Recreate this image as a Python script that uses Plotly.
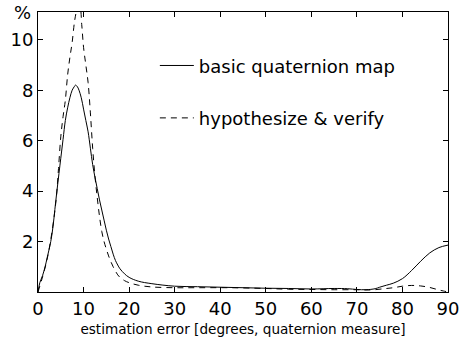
import plotly.graph_objects as go

# estimation error [degrees]
x_basic = [0, 0.4, 1, 1.6, 2, 2.8, 3.3, 3.7, 4.15, 4.6, 5, 5.5, 6, 6.5, 7, 7.5, 8, 8.2, 8.6, 9, 9.5, 10, 10.5, 11, 11.5, 12, 12.5, 13, 13.5, 14,
           14.5, 15, 15.5, 16, 16.5, 17, 17.5, 18, 19, 20,
           22, 25, 30, 35, 40, 45, 50, 55, 60, 65, 68, 70, 72, 74, 75, 76.5, 78, 80, 82, 84, 86, 88, 90]
y_basic = [0, 0.37, 0.65, 1.03, 1.35, 2.0, 2.6, 3.27, 4.0, 4.7, 5.3, 6.05, 6.8, 7.3, 7.7, 8.0, 8.15, 8.2, 8.15, 8.0, 7.7, 7.25, 6.8, 6.35, 5.7, 5.05, 4.55, 4.1, 3.65, 3.25,
           2.85, 2.45, 2.1, 1.8, 1.5, 1.25, 1.07, 0.92, 0.72, 0.58,
           0.43, 0.33, 0.23, 0.21, 0.19, 0.17, 0.15, 0.14, 0.12, 0.14, 0.13, 0.1, 0.09, 0.13, 0.19, 0.27, 0.35, 0.53, 0.85, 1.22, 1.55, 1.76, 1.86]

x_hyp = [0, 1, 2, 3, 4, 4.5, 5, 5.5, 6, 6.5, 7, 7.5, 8, 8.4, 8.8, 9.2, 9.6, 10, 10.5, 11, 11.5, 12, 12.5, 13, 13.5, 14, 14.5, 15, 15.5, 16, 16.5, 17, 17.5, 18, 19, 20,
         22, 25, 30, 35, 42, 50, 55, 60, 65, 70, 73, 76, 78, 80, 82, 84, 86, 88, 89, 90]
y_hyp = [0, 0.6, 1.3, 2.3, 3.7, 4.9, 6.15, 6.95, 7.6, 8.6, 9.3, 9.9, 10.7, 11.1, 11.35, 11.3, 10.6, 9.7, 9.0, 8.3, 7.1, 5.7, 4.6, 3.75, 3.0, 2.4, 2.0, 1.7, 1.43, 1.2, 1.0, 0.83, 0.68, 0.58, 0.45, 0.37,
         0.27, 0.2, 0.17, 0.17, 0.17, 0.14, 0.11, 0.1, 0.09, 0.09, 0.08, 0.13, 0.17, 0.23, 0.26, 0.24, 0.18, 0.08, 0.04, 0.0]

series_names = ["basic quaternion map", "hypothesize & verify"]
x_ticks = [0, 10, 20, 30, 40, 50, 60, 70, 80, 90]
y_ticks = [2, 4, 6, 8, 10]

FONT = "DejaVu Sans"

fig = go.Figure()
fig.add_trace(go.Scatter(x=x_basic, y=y_basic, mode="lines", name=series_names[0],
                         legendgroup="a",
                         line=dict(color="black", width=1, shape="spline", smoothing=1)))
fig.add_trace(go.Scatter(x=x_hyp, y=y_hyp, mode="lines", name=series_names[1],
                         legendgroup="b",
                         line=dict(color="black", width=1, dash="6px,5px", shape="spline", smoothing=1)))

axis_common = dict(showline=True, linecolor="black", linewidth=1, mirror="ticks",
                   ticks="inside", ticklen=5, tickcolor="black", tickwidth=1,
                   showgrid=False, zeroline=False, automargin=False,
                   tickfont=dict(family=FONT, size=18, color="black"))

fig.update_xaxes(range=[0, 90], tickvals=x_ticks, ticktext=[str(v) for v in x_ticks],
                 title=dict(text="estimation error [degrees, quaternion measure]",
                            font=dict(family=FONT, size=13.6, color="black"), standoff=6),
                 **axis_common)
fig.update_yaxes(range=[0, 11.1], tickvals=y_ticks, ticktext=[str(v) for v in y_ticks],
                 **axis_common)

fig.add_annotation(text="%", xref="paper", yref="paper", x=0, y=1, xanchor="right", yanchor="middle",
                   xshift=-5, showarrow=False, font=dict(family=FONT, size=18, color="black"))

fig.update_layout(
    width=460, height=341,
    margin=dict(l=38, r=12, t=12, b=49),
    paper_bgcolor="white", plot_bgcolor="white",
    showlegend=True,
    legend=dict(x=0.285, y=0.874, xanchor="left", yanchor="top",
                bgcolor="rgba(0,0,0,0)", borderwidth=0,
                font=dict(family=FONT, size=18, color="black"),
                traceorder="grouped", tracegroupgap=26, itemwidth=34),
)

fig.write_html("out.html", config={"displayModeBar": False},
               post_script="document.body.style.margin='0';")
